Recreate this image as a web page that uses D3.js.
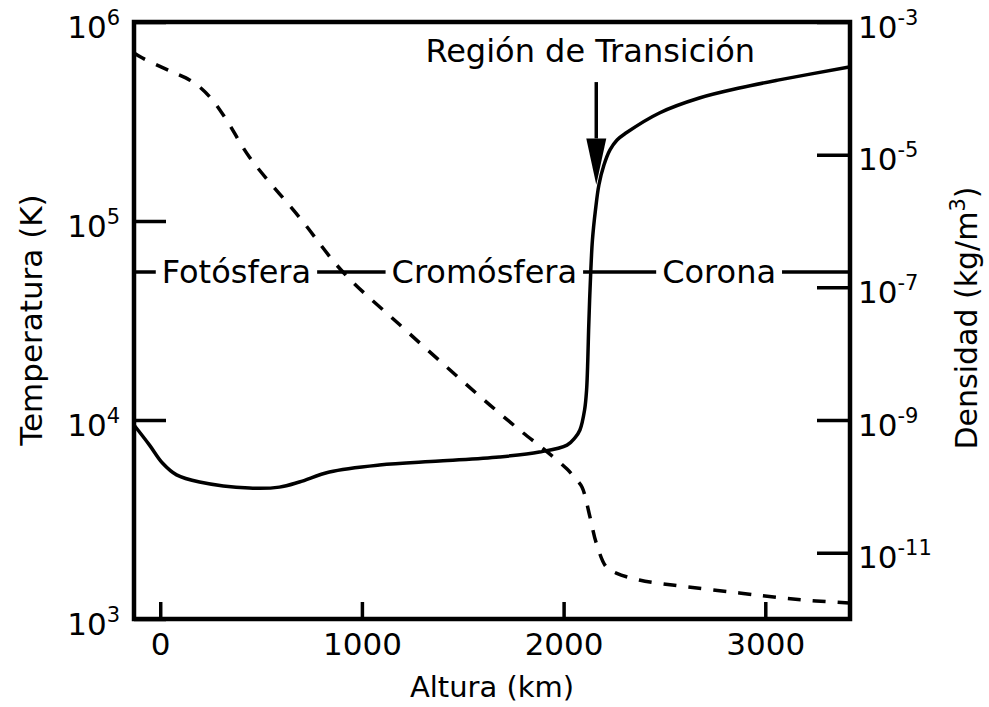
<!DOCTYPE html>
<html>
<head>
<meta charset="utf-8">
<script src="https://cdn.jsdelivr.net/npm/d3@7"></script>
<style>
  body { margin: 0; background: #fff; }
  text { font-family: "DejaVu Sans", sans-serif; fill: #000; }
</style>
</head>
<body>
<div id="chart"></div>
<script>
// altura (km) y temperatura (K)
var tempHeight = [-130, -53, 11, 81, 195, 442, 591, 690, 839, 1087, 1384, 1681, 1880, 2017, 2056, 2081, 2104, 2114, 2120, 2124, 2129, 2135, 2143, 2158, 2175, 2200, 2230, 2265, 2309, 2475, 2673, 2871, 3069, 3416];
var tempK = [9440, 7480, 6080, 5300, 4880, 4550, 4600, 4880, 5480, 5940, 6220, 6520, 6900, 7480, 8130, 8910, 11220, 14150, 20040, 28340, 40090, 56730, 80350, 113500, 151700, 191000, 227500, 255300, 276700, 349100, 415000, 465600, 511700, 594300];

// altura (km) y densidad (kg/m3)
var densHeight = [-130, -88, 61, 145, 195, 259, 329, 442, 693, 906, 1189, 1437, 1635, 1794, 1908, 2017, 2057, 2091, 2131, 2162, 2212, 2261, 2375, 2539, 2871, 3084, 3252, 3416];
var densKg = [3.41e-4, 2.86e-4, 1.76e-4, 1.34e-4, 1.05e-4, 6.67e-5, 3.33e-5, 9.23e-6, 1.11e-6, 1.70e-7, 2.70e-8, 5.67e-9, 1.68e-9, 6.59e-10, 3.52e-10, 1.82e-10, 1.33e-10, 9.77e-11, 3.44e-11, 1.40e-11, 6.07e-12, 4.93e-12, 3.87e-12, 3.25e-12, 2.47e-12, 2.07e-12, 1.87e-12, 1.74e-12];

var xTicks = [0, 1000, 2000, 3000];
var tempTicks = [1e3, 1e4, 1e5, 1e6];
var tempExp = ["3", "4", "5", "6"];
var densTicks = [1e-11, 1e-9, 1e-7, 1e-5, 1e-3];
var densExp = ["-11", "-9", "-7", "-5", "-3"];

var regionNames = ["Fotósfera", "Cromósfera", "Corona"];
var regionCenter = [378, 1607, 2771];
var regionLevel = 55500;   // temperatura de la linea de regiones

var W = 989, H = 707;
var mLeft = 134, mRight = 850, mTop = 22, mBottom = 619;

var x = d3.scaleLinear().domain([-130, 3420]).range([mLeft, mRight]);
var yT = d3.scaleLog().domain([1e3, 1e6]).range([mBottom, mTop]);
var yD = d3.scaleLog().domain([1e-12, 1e-3]).range([mBottom, mTop]);

var svg = d3.select("#chart").append("svg")
    .attr("width", W)
    .attr("height", H);

// curvas
var tempData = tempHeight.map(function(h, i) { return [h, tempK[i]]; });
var densData = densHeight.map(function(h, i) { return [h, densKg[i]]; });

var tempLine = d3.line()
    .x(function(d) { return x(d[0]); })
    .y(function(d) { return yT(d[1]); })
    .curve(d3.curveCatmullRom.alpha(0.5));
var densLine = d3.line()
    .x(function(d) { return x(d[0]); })
    .y(function(d) { return yD(d[1]); })
    .curve(d3.curveCatmullRom.alpha(0.5));

svg.append("path")
    .datum(densData)
    .attr("d", densLine)
    .style("fill", "none")
    .style("stroke", "#000")
    .style("stroke-width", 3.5)
    .style("stroke-dasharray", "13,12");

svg.append("path")
    .datum(tempData)
    .attr("d", tempLine)
    .style("fill", "none")
    .style("stroke", "#000")
    .style("stroke-width", 3.5);

// linea de regiones con etiquetas
svg.append("line")
    .attr("x1", mLeft).attr("x2", mRight)
    .attr("y1", yT(regionLevel)).attr("y2", yT(regionLevel))
    .style("stroke", "#000")
    .style("stroke-width", 3.5);

var reg = svg.selectAll(".region")
    .data(regionNames)
    .enter().append("g")
    .attr("class", "region");
reg.append("text")
    .attr("x", function(d, i) { return x(regionCenter[i]); })
    .attr("y", yT(regionLevel) + 11)
    .style("text-anchor", "middle")
    .style("font-size", "32px")
    .text(function(d) { return d; })
    .each(function() {
        var b = this.getBBox();
        d3.select(this.parentNode).insert("rect", "text")
            .attr("x", b.x - 6).attr("y", b.y)
            .attr("width", b.width + 12).attr("height", b.height)
            .style("fill", "#fff");
    });

// flecha
var arrowH = 2162;
svg.append("line")
    .attr("x1", x(arrowH)).attr("x2", x(arrowH))
    .attr("y1", yT(4.99e5)).attr("y2", yT(2.6e5))
    .style("stroke", "#000")
    .style("stroke-width", 3.5);
svg.append("path")
    .attr("d", "M" + (x(arrowH) - 10) + "," + yT(2.6e5) +
               "L" + (x(arrowH) + 10) + "," + yT(2.6e5) +
               "L" + x(arrowH) + "," + yT(1.52e5) + "Z")
    .style("fill", "#000");
svg.append("text")
    .attr("x", x(2132))
    .attr("y", yT(6.3e5))
    .style("text-anchor", "middle")
    .style("font-size", "32px")
    .text("Región de Transición");

// ejes
var xAxis = svg.append("g")
    .attr("transform", "translate(0," + mBottom + ")")
    .call(d3.axisBottom(x).tickValues(xTicks).tickFormat(d3.format("d"))
        .tickSizeInner(-17).tickSizeOuter(0).tickPadding(14));
var yAxisL = svg.append("g")
    .attr("transform", "translate(" + mLeft + ",0)")
    .call(d3.axisLeft(yT).tickValues(tempTicks).tickSizeInner(-32).tickSizeOuter(0).tickFormat(""));
var yAxisR = svg.append("g")
    .attr("transform", "translate(" + mRight + ",0)")
    .call(d3.axisRight(yD).tickValues(densTicks).tickSizeInner(-33).tickSizeOuter(0).tickFormat(""));

[xAxis, yAxisL, yAxisR].forEach(function(a) {
    a.attr("font-family", null).attr("font-size", null);
    a.select(".domain").remove();
    a.selectAll(".tick line").style("stroke", "#000").style("stroke-width", 3.5);
    a.selectAll(".tick text").style("font-size", "31px");
});

function powerLabel(sel, exps) {
    sel.selectAll(".tick text")
        .attr("dy", "15px")
        .each(function(d, i) {
            var t = d3.select(this);
            t.append("tspan").text("10");
            t.append("tspan").attr("dy", "-13").style("font-size", "21px").text(exps[i]);
        });
}
powerLabel(yAxisL, tempExp);
powerLabel(yAxisR, densExp);
yAxisL.selectAll(".tick text").attr("x", -14);
yAxisR.selectAll(".tick text").attr("x", 8);

// marco
svg.append("rect")
    .attr("x", mLeft).attr("y", mTop)
    .attr("width", mRight - mLeft).attr("height", mBottom - mTop)
    .style("fill", "none")
    .style("stroke", "#000")
    .style("stroke-width", 4.5);

// titulos
svg.append("text")
    .attr("x", 492)
    .attr("y", 697)
    .style("text-anchor", "middle")
    .style("font-size", "29px")
    .text("Altura (km)");

svg.append("text")
    .attr("transform", "translate(42,320) rotate(-90)")
    .style("text-anchor", "middle")
    .style("font-size", "31px")
    .text("Temperatura (K)");

var dt = svg.append("text")
    .attr("transform", "translate(977,318) rotate(-90)")
    .style("text-anchor", "middle")
    .style("font-size", "30px");
dt.append("tspan").text("Densidad (kg/m");
dt.append("tspan").attr("dy", "-12").style("font-size", "21px").text("3");
dt.append("tspan").attr("dy", "12").text(")");
</script>
</body>
</html>
